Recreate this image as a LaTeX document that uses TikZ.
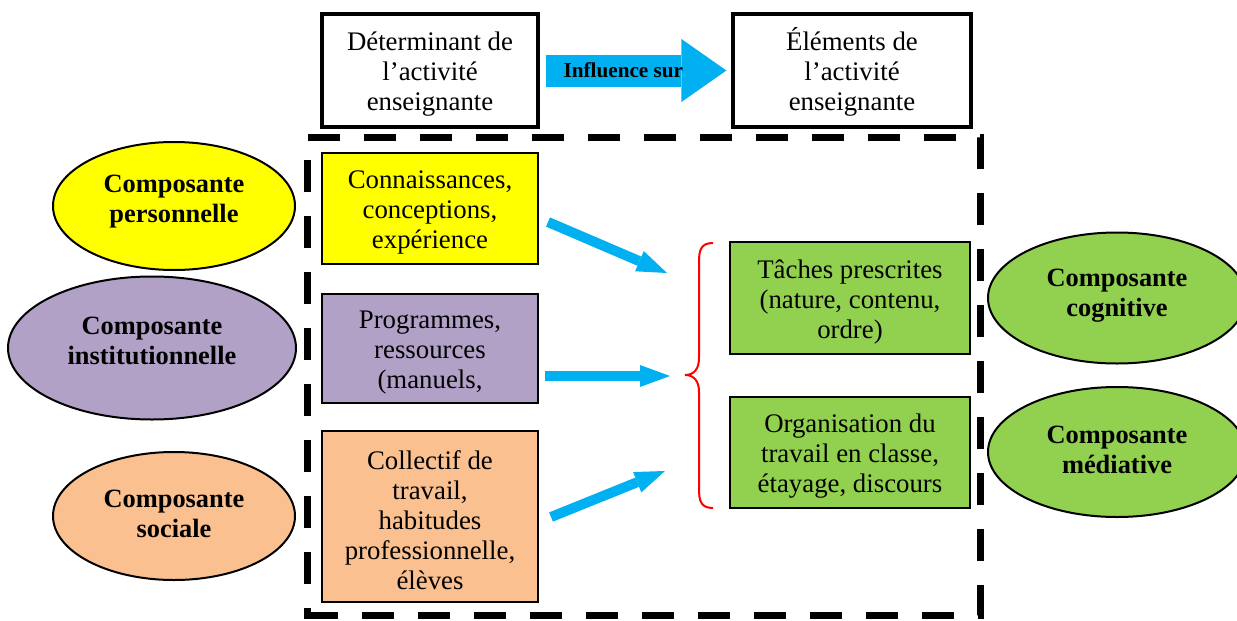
\documentclass[tikz,border=0pt]{standalone}
\usepackage{fontspec}
\setmainfont{Liberation Serif}
\usetikzlibrary{arrows.meta,calc,shapes.geometric}
\definecolor{cyanA}{HTML}{00B0F0}
\definecolor{yelA}{HTML}{FFFF00}
\definecolor{purA}{HTML}{B2A1C7}
\definecolor{oraA}{HTML}{FAC090}
\definecolor{grnA}{HTML}{92D050}
\newcommand\firststrut{\rule{0pt}{13pt}}
\begin{document}
\begin{tikzpicture}[x=0.5pt,y=-0.5pt,
  txt/.style={font=\fontsize{13.4}{15}\selectfont, align=center},
  topbox/.style={draw, line width=1.6pt, fill=white, txt, inner sep=0pt},
  cbox/.style={draw, line width=1pt, txt, inner sep=0pt},
  ell/.style={draw, ellipse, line width=1pt, inner sep=0pt},
  etxt/.style={font=\fontsize{13.2}{15}\selectfont\bfseries, align=center, inner sep=0pt},
  flow/.style={cyanA, line width=5pt, -{Triangle[length=15pt,width=11pt,line width=0pt]}},
  bigflow/.style={cyanA, line width=16pt, -{Triangle[length=22.5pt,width=31.5pt,line width=0pt]}},
  frame/.style={line width=3.5pt, dash pattern=on 16pt off 12pt},
  bracestyle/.style={red, line width=1pt}
]
\useasboundingbox (0,0) rectangle (1237,621);

% dashed frame
\draw[frame] (332,615) -- (307,615) -- (307,137) -- (980,137) -- (980,615) -- cycle;

% top boxes
\node[topbox, minimum width=108pt, minimum height=56.5pt] (tb1) at (430,70.5) {\firststrut Déterminant de\\l’activité\\enseignante};
\node[topbox, minimum width=119pt, minimum height=56.5pt] (tb2) at (852,70.5) {\firststrut Éléments de\\l’activité\\enseignante};
\draw[bigflow] ($(tb1.east)+(6,0)$) -- node[pos=0.43, text=black, font=\fontsize{10.6}{12}\selectfont\bfseries] (infl) {Influence sur} ($(tb2.west)+(-5,0)$);

% left coloured boxes
\node[cbox, fill=yelA, minimum width=108pt, minimum height=55.5pt] (yel) at (430,208.5) {\firststrut Connaissances,\\conceptions,\\expérience};
\node[cbox, fill=purA, minimum width=108pt, minimum height=54.5pt] (pur) at (430,348.5) {\firststrut Programmes,\\ressources\\(manuels,};
\node[cbox, fill=oraA, minimum width=108pt, minimum height=85.5pt] (ora) at (430,516.5) {\firststrut Collectif de\\travail,\\habitudes\\professionnelle,\\élèves};

% green boxes
\node[cbox, fill=grnA, minimum width=120pt, minimum height=56pt] (g1) at (850,298) {\firststrut Tâches prescrites\\(nature, contenu,\\ordre)};
\node[cbox, fill=grnA, minimum width=120pt, minimum height=55.5pt] (g2) at (850,452.5) {\firststrut Organisation du\\travail en classe,\\étayage, discours};

% ellipses left
\node[ell, fill=yelA, minimum width=121pt, minimum height=64pt] (e1) at (174,206) {};
\node[etxt] (t1) at (174,202) {Composante\\personnelle};
\node[ell, fill=purA, minimum width=144pt, minimum height=71.5pt] (e2) at (152,348) {};
\node[etxt] (t2) at (152,340.5) {Composante\\institutionnelle};
\node[ell, fill=oraA, minimum width=121pt, minimum height=64pt] (e3) at (174,516) {};
\node[etxt] (t3) at (174,514) {Composante\\sociale};

% ellipses right
\node[ell, fill=grnA, minimum width=129pt, minimum height=65.5pt] (e4) at (1117,298) {};
\node[etxt] (t4) at (1117,296) {Composante\\cognitive};
\node[ell, fill=grnA, minimum width=129pt, minimum height=65pt] (e5) at (1117,452) {};
\node[etxt] (t5) at (1117,449.5) {Composante\\médiative};

% brace
\draw[bracestyle] (713,243) .. controls (701,243) and (699,250) .. (699,262) -- (699,358)
  .. controls (699,369) and (694,375) .. (685,375)
  .. controls (694,375) and (699,381) .. (699,392) -- (699,489)
  .. controls (699,501) and (701,508) .. (713,508);

% blue arrows
\coordinate (p1) at (667,273);
\coordinate (p2) at (670,376);
\coordinate (p3) at (665,471);
\draw[flow] ($(yel.east)+(9,13.5)$) -- (p1);
\draw[flow] ($(pur.east)+(6,27.5)$) -- (p2);
\draw[flow] ($(ora.east)+(12,0.5)$) -- (p3);
\end{tikzpicture}
\end{document}
